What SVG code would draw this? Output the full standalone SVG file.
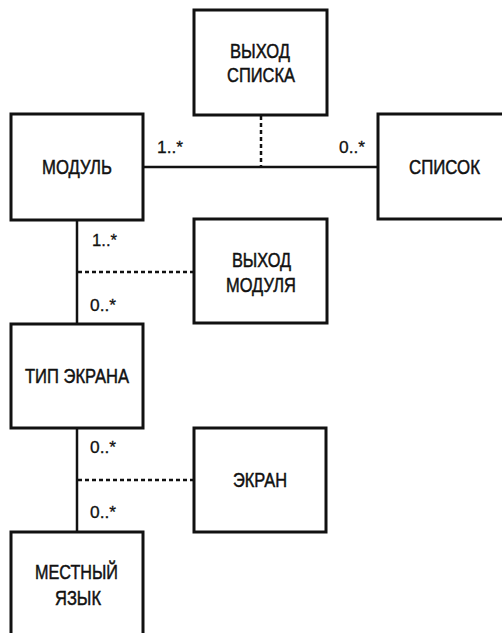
<svg xmlns="http://www.w3.org/2000/svg" width="502" height="633" viewBox="0 0 502 633">
<style>
.box{fill:#fff;stroke:#111;stroke-width:3}
.ln{stroke:#111;stroke-width:2.5;fill:none}
.dot{stroke:#111;stroke-width:2.5;fill:none;stroke-dasharray:4 3}
.t{font-family:"Liberation Sans",Arial,sans-serif;font-size:21px;fill:#111;stroke:#111;stroke-width:0.5}
.m{font-family:"Liberation Sans",Arial,sans-serif;font-size:17px;fill:#111;stroke:#111;stroke-width:0.3}
</style>
<rect width="502" height="633" fill="#fff"/>
<g id="connectors">
<line class="ln" x1="143" y1="167" x2="378" y2="167"/>
<line class="dot" x1="261" y1="116" x2="261" y2="166"/>
<line class="ln" x1="77" y1="220" x2="77" y2="324"/>
<line class="dot" x1="78" y1="272" x2="194" y2="272"/>
<line class="ln" x1="77" y1="428" x2="77" y2="532"/>
<line class="dot" x1="78" y1="480" x2="194" y2="480"/>
<text class="m" x="157" y="153.3" textLength="26" lengthAdjust="spacingAndGlyphs">1..*</text>
<text class="m" x="339" y="153.3" textLength="26" lengthAdjust="spacingAndGlyphs">0..*</text>
<text class="m" x="92" y="245.5" textLength="25" lengthAdjust="spacingAndGlyphs">1..*</text>
<text class="m" x="90" y="310.5" textLength="26" lengthAdjust="spacingAndGlyphs">0..*</text>
<text class="m" x="90" y="453.3" textLength="26" lengthAdjust="spacingAndGlyphs">0..*</text>
<text class="m" x="90" y="518.3" textLength="26" lengthAdjust="spacingAndGlyphs">0..*</text>
</g>
<g id="vyhod-spiska">
<rect class="box" x="194" y="10" width="133" height="105"/>
<text class="t" x="230" y="57.7" textLength="60" lengthAdjust="spacingAndGlyphs">ВЫХОД</text>
<text class="t" x="227" y="81.7" textLength="68" lengthAdjust="spacingAndGlyphs">СПИСКА</text>
</g>
<g id="modul">
<rect class="box" x="11" y="114" width="132" height="106"/>
<text class="t" x="42" y="173.5" textLength="70" lengthAdjust="spacingAndGlyphs">МОДУЛЬ</text>
</g>
<g id="spisok">
<rect class="box" x="378" y="114" width="133" height="105"/>
<text class="t" x="409" y="173.5" textLength="71" lengthAdjust="spacingAndGlyphs">СПИСОК</text>
</g>
<g id="vyhod-modulya">
<rect class="box" x="194" y="219" width="133" height="104"/>
<text class="t" x="232" y="267" textLength="59" lengthAdjust="spacingAndGlyphs">ВЫХОД</text>
<text class="t" x="226" y="292" textLength="70" lengthAdjust="spacingAndGlyphs">МОДУЛЯ</text>
</g>
<g id="tip-ekrana">
<rect class="box" x="11" y="324" width="132" height="104"/>
<text class="t" x="25" y="382.7" textLength="104" lengthAdjust="spacingAndGlyphs">ТИП ЭКРАНА</text>
</g>
<g id="ekran">
<rect class="box" x="194" y="428" width="132" height="104"/>
<text class="t" x="233" y="487.3" textLength="54" lengthAdjust="spacingAndGlyphs">ЭКРАН</text>
</g>
<g id="mestny-yazyk">
<rect class="box" x="11" y="532" width="132" height="112"/>
<text class="t" x="35" y="579.3" textLength="83" lengthAdjust="spacingAndGlyphs">МЕСТНЫЙ</text>
<text class="t" x="55" y="605" textLength="46" lengthAdjust="spacingAndGlyphs">ЯЗЫК</text>
</g>
</svg>
